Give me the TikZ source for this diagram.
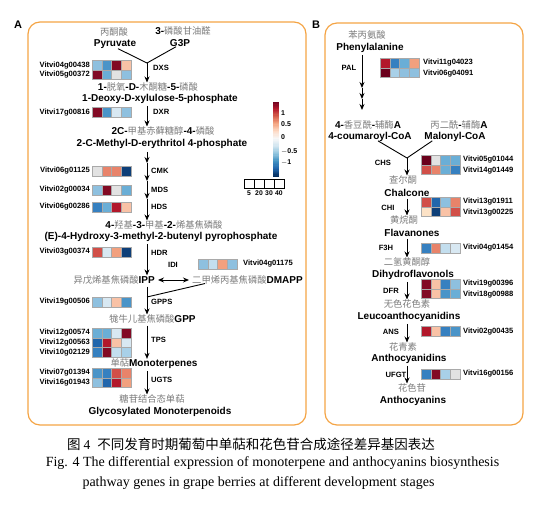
\documentclass[tikz,border=0pt]{standalone}
\usepackage{fontspec}
\setmainfont{Liberation Sans}
\newfontfamily\cjk{Noto Sans CJK SC}
\newfontfamily\timesf{Liberation Serif}
\usetikzlibrary{arrows.meta,calc}

\definecolor{zhgray}{HTML}{7A7A7A}
\definecolor{panelor}{HTML}{F4A445}
\definecolor{cellgray}{HTML}{A9A9A9}
\definecolor{hDR}{HTML}{820A24}
\definecolor{hDRt}{HTML}{6A001C}
\definecolor{hRD}{HTML}{B2182B}
\definecolor{hRS}{HTML}{D14F48}
\definecolor{hSA}{HTML}{E8836A}
\definecolor{hPE}{HTML}{F2A07E}
\definecolor{hLP}{HTML}{F9C2A6}
\definecolor{hVP}{HTML}{FCE2C6}
\definecolor{hWG}{HTML}{E2E2E2}
\definecolor{hVB}{HTML}{D8E8F2}
\definecolor{hVBt}{HTML}{C3DEEE}
\definecolor{hLB}{HTML}{A8D0E8}
\definecolor{hLBt}{HTML}{8EC0DF}
\definecolor{hMBt}{HTML}{6AAED6}
\definecolor{hMB}{HTML}{4A94C8}
\definecolor{hB}{HTML}{3680C0}
\definecolor{hDB}{HTML}{2166AC}
\definecolor{hNV}{HTML}{0E3F78}
\definecolor{cb0}{HTML}{053061}
\definecolor{cb1}{HTML}{2166AC}
\definecolor{cb2}{HTML}{4393C3}
\definecolor{cb3}{HTML}{92C5DE}
\definecolor{cb4}{HTML}{D1E5F0}
\definecolor{cb5}{HTML}{F7F7F7}
\definecolor{cb6}{HTML}{FDDBC7}
\definecolor{cb7}{HTML}{F4A582}
\definecolor{cb8}{HTML}{D6604D}
\definecolor{cb9}{HTML}{B2182B}
\definecolor{cb10}{HTML}{67001F}

\newcommand\zh[1]{{\cjk\mdseries\fontsize{9.3}{11}\selectfont\color{zhgray}#1}}
\newcommand\hrow[3]{%
  \foreach \cc [count=\ii from 0] in {#3} {%
    \fill[fill=\cc, draw=cellgray, line width=0.4pt] ({#1+\ii*9.7},{#2-4.8}) rectangle ++(9.7,9.6);}}

\tikzset{
  en/.style={font=\fontsize{10}{12}\selectfont\bfseries, inner sep=0pt},
  gene/.style={font=\fontsize{7.6}{9}\selectfont\bfseries, inner sep=0pt},
  enz/.style={font=\fontsize{7.6}{9}\selectfont\bfseries, inner sep=0pt},
  leg/.style={font=\fontsize{7}{8}\selectfont\bfseries, inner sep=0pt},
  arr/.style={-{Stealth[length=6pt,width=5pt]}, line width=0.9pt},
  ln/.style={line width=0.9pt},
  panel/.style={draw=panelor, line width=1.2pt, rounded corners=12pt},
  plabel/.style={font=\fontsize{11}{13}\selectfont\bfseries, inner sep=0pt}
}

\begin{document}
\begin{tikzpicture}[x=1pt,y=-1pt]
\path[use as bounding box] (0,0) rectangle (550,508);

% panels
\draw[panel] (28,22) rectangle (306,425);
\draw[panel] (325,23) rectangle (523,425);
\node[plabel] (labA) at (18,25) {A};
\node[plabel] (labB) at (316,25) {B};

% ---------------- Panel A ----------------
\coordinate (ax) at (147,0);
\node[en] (pyrzh) at (114,32) {\zh{丙酮酸}};
\node[en] (pyr) at (115,44) {Pyruvate};
\node[en] (g3pzh) at (183,31) {3-\zh{磷酸甘油醛}};
\node[en] (g3p) at (180,43) {G3P};
\coordinate (j1) at (147,63);
\draw[ln] ([xshift=3pt]pyr.south) -- (j1);
\draw[ln] ([xshift=-4pt]g3p.south) -- (j1);
\node[en] (dxpzh) at (148,87) {1-\zh{脱氧}-D-\zh{木酮糖}-5-\zh{磷酸}};
\node[en] (dxp) at (160,99) {1-Deoxy-D-xylulose-5-phosphate};
\draw[arr] (j1) -- (dxpzh.north -| ax);
\node[enz, anchor=west] (dxs) at (153,68) {DXS};
\node[gene, anchor=east] (a1) at (90,65.3) {Vitvi04g00438};
\node[gene, anchor=east] (a2) at (90,74.9) {Vitvi05g00372};
\hrow{92}{65.3}{hLBt,hMB,hDR,hLP}
\hrow{92}{74.9}{hDR,hMBt,hWG,hLBt}

\node[en] (mepzh) at (163,131) {2C-\zh{甲基赤藓糖醇}-4-\zh{磷酸}};
\node[en] (mep) at (162,144) {2-C-Methyl-D-erythritol 4-phosphate};
\draw[arr, shorten <=2pt] (dxp.south -| ax) -- (mepzh.north -| ax);
\node[enz, anchor=west] (dxr) at (153,112) {DXR};
\node[gene, anchor=east] (a3) at (90,112.5) {Vitvi17g00816};
\hrow{92}{112.5}{hDR,hMB,hVB,hLBt}

\node[en] (hmbzh) at (164,225) {4-\zh{羟基}-3-\zh{甲基}-2-\zh{烯基焦磷酸}};
\node[en] (hmb) at (161,237) {(E)-4-Hydroxy-3-methyl-2-butenyl pyrophosphate};
\coordinate (c1) at (147,163);
\coordinate (c2) at (147,181);
\coordinate (c3) at (147,199);
\draw[arr, shorten <=3pt] (mep.south -| ax) -- (c1);
\draw[arr] (c1) -- (c2);
\draw[arr] (c2) -- (c3);
\draw[arr] (c3) -- (hmbzh.north -| ax);
\node[enz, anchor=west] (cmk) at (151,171) {CMK};
\node[enz, anchor=west] (mds) at (151,190) {MDS};
\node[enz, anchor=west] (hds) at (151,207) {HDS};
\node[gene, anchor=east] (a4) at (90,171) {Vitvi06g01125};
\node[gene, anchor=east] (a5) at (90,190) {Vitvi02g00034};
\node[gene, anchor=east] (a6) at (90,207) {Vitvi06g00286};
\hrow{92}{171}{hWG,hSA,hSA,hNV}
\hrow{92}{190}{hLBt,hDR,hWG,hMBt}
\hrow{92}{207}{hB,hMBt,hRD,hLP}

\node[en, anchor=east] (ipp) at (155,280) {\zh{异戊烯基焦磷酸}IPP};
\node[en, anchor=west] (dmapp) at (192,280) {\zh{二甲烯丙基焦磷酸}DMAPP};
\draw[arr, shorten <=2pt] (hmb.south -| ax) -- (ipp.north -| ax);
\node[enz, anchor=west] (hdr) at (151,253) {HDR};
\node[gene, anchor=east] (a7) at (90,252) {Vitvi03g00374};
\hrow{92}{252}{hRS,hVB,hPE,hNV}
\draw[{Stealth[length=6pt,width=5pt]}-{Stealth[length=6pt,width=5pt]}, line width=0.9pt] ([xshift=3pt]ipp.east) -- ([xshift=-3pt]dmapp.west);
\node[enz] (idi) at (173,265) {IDI};
\hrow{198}{264}{hLBt,hVBt,hPE,hLBt}
\node[gene, anchor=west] (a8) at (243,264) {Vitvi04g01175};

\node[en] (gpp) at (152.5,319) {\zh{牻牛儿基焦磷酸}GPP};
\coordinate (m1) at (147,297);
\draw[ln] ([xshift=13pt,yshift=1pt]dmapp.south west) -- (m1);
\draw[arr, shorten <=2pt] (ipp.south -| ax) -- (gpp.north -| ax);
\node[enz, anchor=west] (gpps) at (151,302) {GPPS};
\node[gene, anchor=east] (a9) at (90,302) {Vitvi19g00506};
\hrow{92}{302}{hLBt,hVB,hLP,hMB}

\node[en] (mono) at (154,364) {\zh{单萜}Monoterpenes};
\draw[arr, shorten <=2pt] (gpp.south -| ax) -- (mono.north -| ax);
\node[enz, anchor=west] (tps) at (151,340) {TPS};
\node[gene, anchor=east] (a10) at (90,333) {Vitvi12g00574};
\node[gene, anchor=east] (a11) at (90,342.6) {Vitvi12g00563};
\node[gene, anchor=east] (a12) at (90,352.2) {Vitvi10g02129};
\hrow{92}{333}{hMBt,hMBt,hVB,hDR}
\hrow{92}{342.6}{hDB,hRD,hLP,hVB}
\hrow{92}{352.2}{hB,hDR,hVBt,hLB}

\node[en] (glyzh) at (152,399) {\zh{糖苷结合态单萜}};
\node[en] (gly) at (160,412) {Glycosylated Monoterpenoids};
\draw[arr, shorten <=2pt] (mono.south -| ax) -- (glyzh.north -| ax);
\node[enz, anchor=west] (ugts) at (151,380) {UGTS};
\node[gene, anchor=east] (a13) at (90,373) {Vitvi07g01394};
\node[gene, anchor=east] (a14) at (90,382.6) {Vitvi16g01943};
\hrow{92}{373}{hMB,hB,hRS,hSA}
\hrow{92}{382.6}{hLBt,hDB,hRD,hPE}

% colour bar (stacked slices, bottom = -max, top = +max)
\foreach \ca/\cbb [count=\s from 0] in {cb0/cb1,cb1/cb2,cb2/cb3,cb3/cb4,cb4/cb5,cb5/cb6,cb6/cb7,cb7/cb8,cb8/cb9,cb9/cb10} {
  \foreach \t in {0,...,5} {
    \pgfmathsetmacro\pp{100-\t*100/6}
    \fill[\ca!\pp!\cbb] (273,{177-\s*7.5-\t*1.25}) rectangle (278.5,{177-\s*7.5-\t*1.25-1.4});
  }
}
\node[leg, anchor=west] (t1) at (281,113) {1};
\node[leg, anchor=west] (t2) at (281,124.5) {0.5};
\node[leg, anchor=west] (t3) at (281,137) {0};
\node[leg, anchor=west] (t4) at (281,151) {$-$0.5};
\node[leg, anchor=west] (t5) at (281,163) {$-$1};
\foreach \k/\lab in {0/5,1/20,2/30,3/40} {
  \draw[line width=0.6pt] ({244+\k*10},179) rectangle ++(10,9);
  \node[leg, font=\fontsize{6.8}{8}\selectfont\bfseries] (s\k) at ({249+\k*10},193) {\lab};
}

% ---------------- Panel B ----------------
\coordinate (px) at (362,0);
\coordinate (bx) at (407,0);
\node[en] (phezh) at (367,35) {\zh{苯丙氨酸}};
\node[en] (phe) at (370,48) {Phenylalanine};
\coordinate (pa1) at (362,88);
\coordinate (pa2) at (362,99);
\coordinate (pa3) at (362,110);
\draw[arr, shorten <=2pt] (phe.south -| px) -- (pa1);
\draw[arr] (pa1) -- (pa2);
\draw[arr] (pa2) -- (pa3);
\node[enz] (pal) at (349,68) {PAL};
\hrow{380}{63}{hRD,hB,hMBt,hPE}
\hrow{380}{72.6}{hDRt,hLB,hLBt,hLBt}
\node[gene, anchor=west] (b1) at (423,63) {Vitvi11g04023};
\node[gene, anchor=west] (b2) at (423,73.5) {Vitvi06g04091};

\node[en] (coumzh) at (368,125) {4-\zh{香豆酰}-\zh{辅酶}A};
\node[en] (coum) at (370,137) {4-coumaroyl-CoA};
\node[en] (malzh) at (459,125) {\zh{丙二酰}-\zh{辅酶}A};
\node[en] (mal) at (455,137) {Malonyl-CoA};
\coordinate (j2) at (407,158);
\draw[ln] ([xshift=8pt,yshift=1pt]coum.south) -- (j2);
\draw[ln] ([xshift=8pt,yshift=1pt]mal.south west) -- (j2);

\node[en] (chzh) at (403,180) {\zh{查尔酮}};
\node[en] (ch) at (407,193) {Chalcone};
\draw[arr] (j2) -- (chzh.north -| bx);
\node[enz] (chs) at (383,163) {CHS};
\hrow{421}{160}{hDRt,hWG,hMBt,hMBt}
\hrow{421}{169.6}{hRS,hSA,hMBt,hB}
\node[gene, anchor=west] (b3) at (463,160) {Vitvi05g01044};
\node[gene, anchor=west] (b4) at (463,170.5) {Vitvi14g01449};

\node[en] (flzh) at (404,220) {\zh{黄烷酮}};
\node[en] (fl) at (412,233) {Flavanones};
\draw[arr, shorten <=2pt] (ch.south -| bx) -- (flzh.north -| bx);
\node[enz] (chi) at (388,208) {CHI};
\hrow{421}{202}{hRS,hDB,hLBt,hSA}
\hrow{421}{211.6}{hVP,hNV,hLP,hRS}
\node[gene, anchor=west] (b5) at (463,202) {Vitvi13g01911};
\node[gene, anchor=west] (b6) at (463,212.5) {Vitvi13g00225};

\node[en] (dhzh) at (407,262) {\zh{二氢黄酮醇}};
\node[en] (dh) at (413,275) {Dihydroflavonols};
\draw[arr, shorten <=2pt] (fl.south -| bx) -- (dhzh.north -| bx);
\node[enz] (f3h) at (386,248) {F3H};
\hrow{421}{248}{hB,hSA,hVBt,hVB}
\node[gene, anchor=west] (b7) at (463,248) {Vitvi04g01454};

\node[en] (lczh) at (407,304) {\zh{无色花色素}};
\node[en] (lc) at (409,317) {Leucoanthocyanidins};
\draw[arr, shorten <=2pt] (dh.south -| bx) -- (lczh.north -| bx);
\node[enz] (dfr) at (391,291) {DFR};
\hrow{421}{284}{hDR,hLP,hB,hLBt}
\hrow{421}{293.6}{hDR,hLP,hMB,hMBt}
\node[gene, anchor=west] (b8) at (463,284) {Vitvi19g00396};
\node[gene, anchor=west] (b9) at (463,294.5) {Vitvi18g00988};

\node[en] (aczh) at (403,347) {\zh{花青素}};
\node[en] (ac) at (409,359) {Anthocyanidins};
\draw[arr, shorten <=2pt] (lc.south -| bx) -- (aczh.north -| bx);
\node[enz] (ans) at (391,332) {ANS};
\hrow{421}{331.5}{hRD,hLP,hB,hMB}
\node[gene, anchor=west] (b10) at (463,331.5) {Vitvi02g00435};

\node[en] (anzh) at (412,388) {\zh{花色苷}};
\node[en] (an) at (413,401) {Anthocyanins};
\draw[arr, shorten <=2pt] (ac.south -| bx) -- (anzh.north -| bx);
\node[enz] (ufgt) at (396,375) {UFGT};
\hrow{421}{374}{hB,hDR,hLB,hWG}
\node[gene, anchor=west] (b11) at (463,374) {Vitvi16g00156};

% ---------------- Caption ----------------
\node[anchor=west, font=\cjk\fontsize{13.5}{15}\selectfont, inner sep=0pt] (cap1) at (67,444)
  {图\hspace{3pt}{\timesf 4}\hspace{7pt}不同发育时期葡萄中单萜和花色苷合成途径差异基因表达};
\node[font=\timesf\fontsize{14}{16}\selectfont, inner sep=0pt] (cap2) at (272.5,463)
  {Fig. 4 The differential expression of monoterpene and anthocyanins biosynthesis};
\node[font=\timesf\fontsize{14}{16}\selectfont, inner sep=0pt] (cap3) at (258.5,483)
  {pathway genes in grape berries at different development stages};
\end{tikzpicture}
\end{document}
